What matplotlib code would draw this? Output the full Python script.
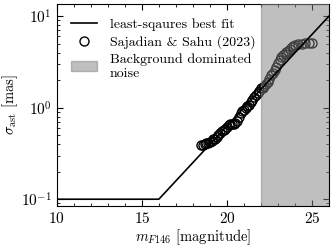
import numpy as np
import matplotlib
matplotlib.use("Agg")
import matplotlib.pyplot as plt

# Sajadian & Sahu (2023) points
mag = [18.5, 18.6, 18.7, 18.8, 18.9, 19.0, 19.1, 19.2, 19.3, 19.4,
       19.5, 19.6, 19.7, 19.8, 19.9, 20.0, 20.1, 20.2, 20.3, 20.4,
       20.5, 20.6, 20.7, 20.8, 20.9, 21.0, 21.1, 21.2, 21.3, 21.4,
       21.5, 21.6, 21.7, 21.8, 21.9, 22.0, 22.1, 22.2, 22.3, 22.4,
       22.5, 22.6, 22.7, 22.8, 22.9, 23.0, 23.1, 23.2, 23.3, 23.4,
       23.5, 23.6, 23.7, 23.8, 23.9, 24.0, 24.2, 24.4, 24.6, 24.8, 25.0]
sigma = [0.39, 0.39, 0.40, 0.41, 0.41, 0.42, 0.43, 0.45, 0.46, 0.48,
         0.50, 0.53, 0.55, 0.57, 0.59, 0.61, 0.64, 0.66, 0.66, 0.67,
         0.68, 0.72, 0.80, 0.88, 0.92, 0.95, 1.00, 1.05, 1.08, 1.15,
         1.22, 1.30, 1.38, 1.46, 1.53, 1.62, 1.66, 1.72, 1.80, 1.92,
         2.05, 2.25, 2.40, 2.60, 2.80, 3.05, 3.35, 3.60, 3.75, 3.90,
         4.05, 4.20, 4.40, 4.55, 4.70, 4.80, 4.90, 5.00, 5.10, 5.15, 5.15]

# piecewise best fit: floor, then log-linear
fit_floor = 0.1
fit_knee = 16.0
fit_slope = 0.2  # dex per magnitude
bg_start, bg_end = 22.0, 26.0

plt.rcParams["font.family"] = "serif"
plt.rcParams["font.serif"] = ["cmr10", "DejaVu Serif"]
plt.rcParams["mathtext.fontset"] = "cm"
plt.rcParams["axes.formatter.use_mathtext"] = True
plt.rcParams["font.size"] = 11

fig = plt.figure(figsize=(3.34, 2.49), dpi=100)
ax = fig.add_axes([0.17, 0.174, 0.815, 0.808])

m_fit = np.linspace(10, 26, 400)
s_fit = np.where(m_fit < fit_knee, fit_floor,
                 fit_floor * 10 ** (fit_slope * (m_fit - fit_knee)))

ax.plot(m_fit, s_fit, color="black", lw=1.2, zorder=4,
        label="least-sqaures best fit")
ax.plot(mag, sigma, "o", mfc="none", mec="black", ms=6.5, mew=1.0,
        zorder=2, label="Sajadian & Sahu (2023)")
ax.axvspan(bg_start, bg_end, color="gray", alpha=0.5, zorder=3,
           label="Background dominated\nnoise")

ax.set_yscale("log")
ax.set_xlim(10, 26)
ax.set_ylim(0.085, 13.4)
ax.set_xticks([10, 15, 20, 25])
ax.xaxis.set_minor_locator(matplotlib.ticker.MultipleLocator(1))
ax.tick_params(which="both", direction="in", top=True, right=True)
ax.tick_params(which="major", length=4)
ax.tick_params(which="minor", length=2)

ax.set_xlabel(r"$m_{F146}$ [magnitude]", fontsize=10.5, labelpad=1)
ax.set_ylabel(r"$\sigma_{\rm ast}$ [mas]", fontsize=10.5, labelpad=1)

ax.legend(loc="upper left", frameon=False, fontsize=10, handlelength=1.9,
          handletextpad=0.9, borderaxespad=0.6, labelspacing=0.3)

fig.savefig("out.png", dpi=100)
